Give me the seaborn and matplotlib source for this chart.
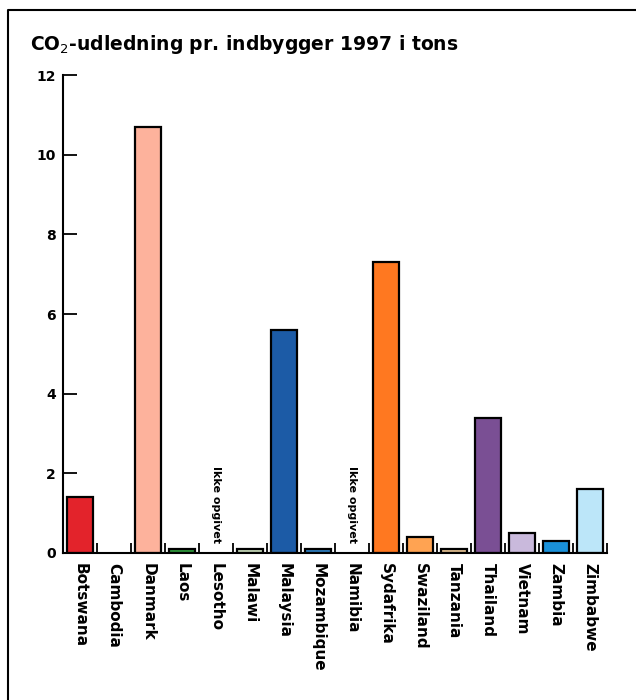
import matplotlib
matplotlib.use("Agg")
import matplotlib.pyplot as plt
from matplotlib.lines import Line2D
from matplotlib.ticker import FixedLocator
import seaborn as sns
import pandas as pd

# Data: CO2 per inhabitant 1997 (tons)
lande = ["Botswana", "Cambodia", "Danmark", "Laos", "Lesotho", "Malawi",
         "Malaysia", "Mozambique", "Namibia", "Sydafrika", "Swaziland",
         "Tanzania", "Thailand", "Vietnam", "Zambia", "Zimbabwe"]
udledning = [1.4, 0.0, 10.7, 0.1, 0.0, 0.1, 5.6, 0.1, 0.0, 7.3, 0.4,
             0.1, 3.4, 0.5, 0.3, 1.6]
farver = ["#e3232b", "#ffffff", "#fdb29c", "#2f9a3c", "#ffffff", "#c9dcbb",
          "#1c5ba6", "#2f80c2", "#ffffff", "#ff7820", "#ffa352",
          "#e6c394", "#7a4f94", "#c9b9dc", "#1a91d9", "#bce6f9"]
ikke_opgivet = ["Lesotho", "Namibia"]
y_ticks = [0, 2, 4, 6, 8, 10, 12]

df = pd.DataFrame({"land": lande, "co2": udledning})

sns.set_theme(style="white")
plt.rcParams["font.family"] = ["DejaVu Sans"]
plt.rcParams["text.color"] = "black"
plt.rcParams["xtick.color"] = "black"
plt.rcParams["ytick.color"] = "black"

fig = plt.figure(figsize=(6.36, 7.0), dpi=100)
ax = fig.add_axes([63 / 636, 1 - 553 / 700, 544 / 636, (553 - 75) / 700])

sns.barplot(data=df, x="land", y="co2", hue="land", palette=farver,
            legend=False, width=0.75, edgecolor="black", linewidth=1.6,
            saturation=1, ax=ax)

# hide empty bars for countries without data
for patch, v in zip(ax.patches, udledning):
    if v == 0:
        patch.set_visible(False)

for land in ikke_opgivet:
    i = lande.index(land)
    ax.text(i, 0.25, "Ikke opgivet", rotation=-90, ha="center", va="bottom",
            fontsize=8, fontweight="bold", color="black")

ax.set_xlim(-0.5, len(lande) - 0.5)
ax.set_ylim(0, 12)
ax.set_yticks(y_ticks)
ax.set_yticklabels([str(t) for t in y_ticks], fontsize=10, fontweight="bold")
ax.set_xticks(range(len(lande)))
ax.set_xticklabels(lande, rotation=-90, fontsize=11, fontweight="bold",
                   ha="center", va="top")
ax.tick_params(axis="x", which="major", length=0, pad=7)
ax.xaxis.set_minor_locator(FixedLocator([k + 0.5 for k in range(len(lande))]))
ax.tick_params(axis="x", which="minor", direction="in", length=7, width=1.3,
               color="black", bottom=True)
ax.tick_params(axis="y", direction="in", length=10, width=1.3, pad=5,
               color="black", left=True)
ax.set_xlabel("")
ax.set_ylabel("")
sns.despine(ax=ax)
for s in ["left", "bottom"]:
    ax.spines[s].set_linewidth(1.5)
    ax.spines[s].set_color("black")

fig.text(30 / 636, 1 - 45 / 700, "CO$_2$-udledning pr. indbygger 1997 i tons",
         fontsize=13.5, fontweight="bold", va="center", ha="left",
         color="black")

# frame (top and left edges)
fx = 8 / 636
fy = 1 - 10 / 700
fig.add_artist(Line2D([fx, fx, 1], [0, fy, fy], color="black", linewidth=1.5,
                      transform=fig.transFigure))

fig.savefig("out.png", dpi=100)
